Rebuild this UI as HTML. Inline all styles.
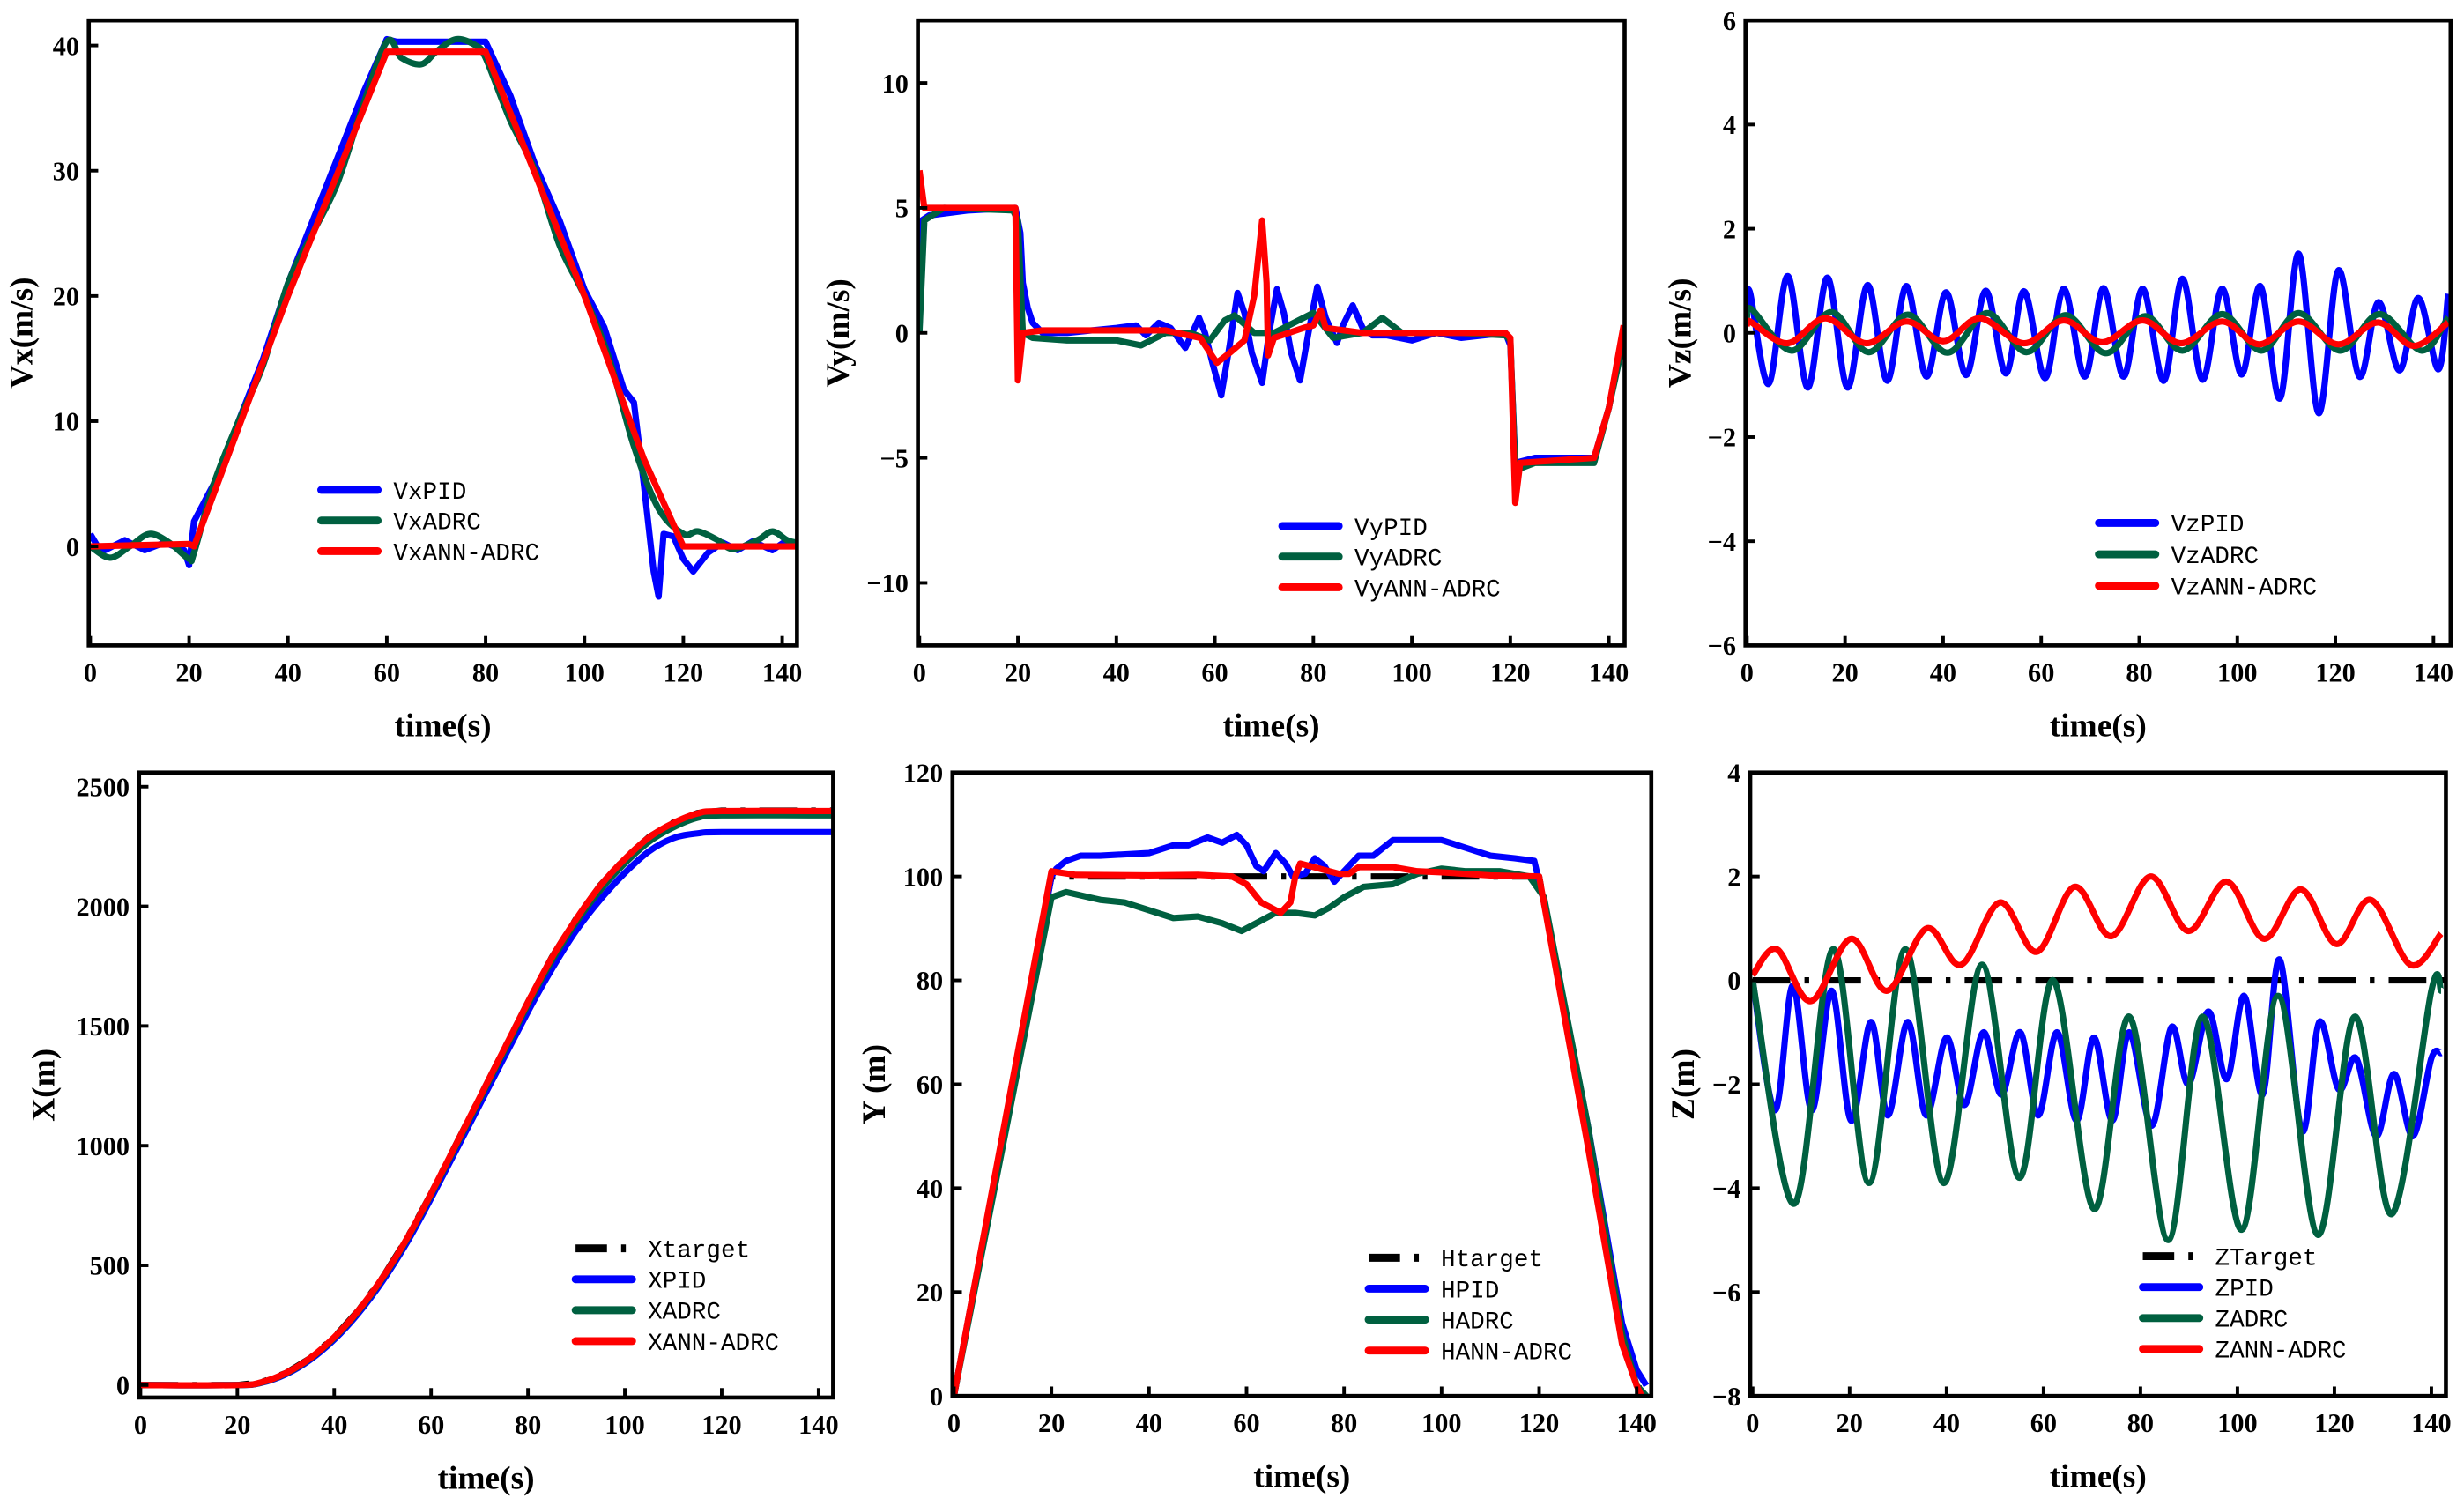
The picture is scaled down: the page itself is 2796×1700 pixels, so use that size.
<!DOCTYPE html>
<html><head><meta charset="utf-8"><style>
html,body{margin:0;padding:0;background:#fff;}
svg{display:block;}
.tk{font-family:"Liberation Serif",serif;font-weight:bold;font-size:17px;fill:#000;}
.at{font-family:"Liberation Serif",serif;font-weight:bold;font-size:21px;fill:#000;}
.lg{font-family:"Liberation Mono",monospace;font-size:15.5px;fill:#000;}
</style></head><body>
<svg id="fig" width="2796" height="1700" viewBox="0 0 1568 954" xmlns="http://www.w3.org/2000/svg"></svg>
<script>
// ---- Panel 1: Vx ----
const vxTicksX=[0,20,40,60,80,100,120,140];
const vxTicksY=[0,10,20,30,40];
const vxPID=[[0,1],[1.5,0],[3,-0.3],[7,0.5],[11,-0.3],[15,0.3],[19,-0.3],[20,-1.5],[21,2],[25,5],[30,10],[35,15],[40,21],[45,26],[50,31],[55,36],[60,40.5],[62,40.3],[70,40.3],[80,40.3],[85,36],[90,30.5],[95,26],[100,20.5],[104,17.5],[108,12.5],[110,11.5],[112,5],[114,-2],[115,-4],[116,1],[118,0.8],[120,-1],[122,-2],[125,-0.5],[128,0.3],[131,-0.3],[134,0.4],[138,-0.3],[141,0.5],[143,0]];
const vxADRC=[[0,0],[4,-0.9],[8,0],[12,1],[16,0.3],[20,-1],[21,-0.5],[25,5],[30,10],[35,14.5],[40,21],[45,25],[50,29],[55,35],[60,40.3],[63,39],[67,38.5],[70,39.5],[74,40.5],[78,40],[80,39],[85,34],[90,30],[95,24],[100,20],[105,15],[110,8],[115,3],[120,1],[123,1.2],[127,0.5],[130,-0.2],[135,0.5],[138,1.2],[141,0.5],[143,0.3]];
const vxANN=[[0,0],[20,0.2],[21,0],[40,20],[60,39.5],[80,39.5],[100,20],[112,7],[120,0],[143,0]];
// ---- Panel 2: Vy ----
const vyTicksX=[0,20,40,60,80,100,120,140];
const vyTicksY=[-10,-5,0,5,10];
const vyPID=[[0,0],[0.5,4.5],[2,4.7],[10,4.9],[19.5,5],[20.5,4],[21,2],[22,1],[23,0.4],[25,0],[30,0],[35,0.1],[40,0.2],[44,0.3],[46,-0.1],[48.6,0.4],[51,0.2],[54,-0.6],[56.8,0.6],[58,0],[59.5,-1.2],[61.3,-2.5],[63,-0.5],[64.6,1.6],[66,0.8],[67.5,-0.8],[69.6,-2.0],[71,0],[72.6,1.75],[74,0.8],[75.5,-0.8],[77.3,-1.9],[79,0],[80.8,1.85],[82.5,0.6],[84.8,-0.4],[86,0.3],[88,1.1],[90,0.2],[92,-0.1],[95,-0.1],[100,-0.3],[105,0],[110,-0.2],[119,0],[120,-0.5],[121,-5.2],[125,-5],[137,-5],[140,-3],[143,0]];
const vyADRC=[[0,0],[1,4.5],[5,5],[19,4.9],[20,4.5],[21,0],[23,-0.2],[30,-0.3],[40,-0.3],[45,-0.5],[50,0],[55,0],[59,-0.3],[62,0.5],[64,0.7],[68,0],[72,0],[77,0.5],[80,0.8],[84,-0.2],[90,0],[94,0.6],[98,0],[110,0],[119,-0.1],[120,-0.3],[121,-5.5],[125,-5.2],[137,-5.2],[140,-3],[143,-0.3]];
const vyANN=[[0,6.5],[1,5],[10,5],[19.5,5],[20,-1.9],[21,0],[25,0.1],[40,0.1],[50,0.1],[57,-0.2],[60.4,-1.2],[63,-0.8],[66,-0.3],[68,1.5],[69.6,4.5],[70.5,2],[70.8,-0.9],[72,-0.2],[78,0.2],[80,0.3],[81.5,0.9],[82.5,0.2],[90,0],[119,0],[120,-0.2],[121,-6.8],[122,-5.2],[137,-5],[140,-3],[143,0.3]];
// ---- Panel 3: Vz ----
const vzTicksX=[0,20,40,60,80,100,120,140];
const vzTicksY=[-6,-4,-2,0,2,4,6];
const vzPID=[[0,0.4],[0.6,0.78],[4.4,-0.98],[8.3,1.09],[12.4,-1.05],[16.4,1.06],[20.5,-1.05],[24.6,0.92],[28.6,-0.92],[32.5,0.9],[36.6,-0.84],[40.6,0.78],[44.7,-0.81],[48.7,0.81],[52.8,-0.78],[56.5,0.8],[60.8,-0.87],[64.6,0.85],[68.9,-0.84],[72.7,0.86],[76.8,-0.84],[80.7,0.85],[85,-0.92],[88.8,1.04],[92.9,-0.9],[96.9,0.85],[100.9,-0.8],[104.7,0.9],[108.7,-1.26],[112.5,1.52],[116.6,-1.54],[120.6,1.2],[124.9,-0.84],[128.8,0.59],[133.1,-0.72],[136.9,0.67],[141,-0.7],[143,0.75]];
const vzADRC=[[0,0.3],[1,0.45],[9.1,-0.34],[17.2,0.4],[24.8,-0.37],[32.8,0.35],[40.9,-0.38],[49,0.38],[57,-0.37],[65,0.34],[73.2,-0.39],[81.2,0.32],[88.8,-0.34],[96.9,0.36],[104.9,-0.34],[112.5,0.38],[121,-0.34],[129,0.36],[137.6,-0.34],[143,0.3]];
const vzANN=[[0,0.15],[0.6,0.22],[8.2,-0.2],[16,0.28],[24.3,-0.2],[32.5,0.22],[40.1,-0.16],[47.5,0.28],[56.5,-0.2],[64.6,0.24],[72.4,-0.18],[80.7,0.24],[88.5,-0.2],[96.9,0.22],[104.5,-0.22],[112.5,0.22],[120.6,-0.22],[128.7,0.2],[136,-0.25],[143,0.2]];
// ---- Panel 4: X ----
const xTicksX=[0,20,40,60,80,100,120,140];
const xTicksY=[0,500,1000,1500,2000,2500];
const xTarget=[[0,0],[20,0],[25,12],[30,50],[35,112],[40,200],[45,312],[50,450],[55,612],[60,800],[70,1200],[80,1600],[85,1790],[90,1950],[95,2090],[100,2200],[105,2290],[110,2350],[115,2390],[120,2400],[143,2400]];
const xPID=[[0,0],[20,0],[25,10],[30,45],[35,105],[40,190],[45,300],[50,435],[55,595],[60,780],[70,1170],[80,1560],[85,1740],[90,1900],[95,2030],[100,2140],[105,2230],[110,2285],[115,2305],[120,2310],[143,2310]];
const xADRC=[[0,0],[20,0],[25,11],[30,48],[35,110],[40,197],[45,308],[50,446],[55,608],[60,795],[70,1192],[80,1590],[85,1775],[90,1935],[95,2070],[100,2180],[105,2270],[110,2330],[115,2370],[120,2380],[143,2380]];
const xANN=[[0,0],[20,0],[25,12],[30,50],[35,112],[40,200],[45,312],[50,450],[55,612],[60,800],[70,1200],[80,1600],[85,1788],[90,1948],[95,2088],[100,2198],[105,2288],[110,2348],[115,2388],[120,2398],[143,2398]];
// ---- Panel 5: Y ----
const yTicksX=[0,20,40,60,80,100,120,140];
const yTicksY=[0,20,40,60,80,100,120];
const hTarget=[[0,0],[20,100],[120,100],[130,50],[137,13],[140,3],[141,0]];
const hPID=[[0,0],[20,100],[21,101.5],[23,103],[26,104],[30,104],[40,104.5],[45,106],[48,106],[52,107.5],[55,106.5],[58,108],[60,106],[62,102],[63.5,101],[66,104.5],[68,102.5],[69.5,100],[72,100.5],[74,103.5],[76,102],[78,99],[80,101],[83,104],[86,104],[90,107],[95,107],[100,107],[105,105.5],[110,104],[115,103.5],[119,103],[121,95],[130,52],[137,14],[140,5],[142,2]];
const hADRC=[[0,0],[20,96],[23,97],[30,95.5],[35,95],[40,93.5],[45,92],[50,92.3],[55,91],[59,89.5],[62,91],[66,93],[70,93],[74,92.5],[77,94],[80,96],[84,98],[90,98.5],[95,100.5],[100,101.5],[105,101],[112,101],[118,100],[121,96],[130,52],[137,12],[140,2],[142,0]];
const hANN=[[0,0],[20,101],[25,100.3],[40,100.2],[50,100.3],[57,100],[60,98.5],[63,95],[67,93],[69,95],[70,100],[71,102.5],[75,101.5],[79,100.5],[81,100.5],[83,101.8],[90,101.8],[95,101],[100,100.8],[110,100.2],[120,100],[130,48],[137,10],[140,2],[141,0]];
// ---- Panel 6: Z ----
const zTicksX=[0,20,40,60,80,100,120,140];
const zTicksY=[-8,-6,-4,-2,0,2,4];
const zTarget=[[0,0],[143,0]];
const zPID=[[0,0],[4.6,-2.5],[8.3,-0.1],[12.2,-2.5],[16.3,-0.2],[20.3,-2.7],[24.4,-0.8],[27.9,-2.6],[32,-0.8],[35.8,-2.6],[40,-1.1],[43.7,-2.4],[47.6,-1.0],[51.3,-2.2],[55.2,-1.0],[58.9,-2.6],[62.8,-1.0],[66.8,-2.7],[70.4,-1.1],[74.2,-2.7],[77.7,-1.0],[82.3,-2.8],[86.4,-0.9],[89.9,-2.0],[94,-0.6],[97.8,-1.9],[101.4,-0.3],[105.2,-2.2],[108.7,0.4],[113.3,-2.9],[116.9,-0.8],[120.9,-2.1],[124.5,-1.5],[128.6,-3.0],[132.3,-1.8],[136.2,-3.0],[140,-1.5],[142,-1.4]];
const zADRC=[[0,0],[8.6,-4.3],[16.6,0.6],[24,-3.9],[31.5,0.6],[39.4,-3.9],[47.3,0.3],[55,-3.8],[62,0],[70.4,-4.4],[77.7,-0.7],[85.7,-5.0],[92.8,-0.7],[100.9,-4.8],[108.4,-0.3],[116.6,-4.9],[124.2,-0.7],[131.8,-4.5],[140,-0.2],[142,-0.2]];
const zANN=[[0,0.1],[5,0.6],[12,-0.4],[20.3,0.8],[27.7,-0.2],[35.9,1.0],[43,0.3],[51,1.5],[58.6,0.55],[66.4,1.8],[74,0.85],[82.1,2.0],[89.9,0.95],[97.8,1.9],[105.5,0.8],[113.1,1.75],[120.4,0.7],[127.5,1.55],[135.7,0.3],[142,0.9]];

const BLUE="#0000ff",GREEN="#006040",RED="#ff0000",BLACK="#000";
const DASH='24,9,3,9';
const NS="http://www.w3.org/2000/svg";
const svg=document.getElementById('fig');
function mk(tag,attrs,parent){const e=document.createElementNS(NS,tag);for(const k in attrs)e.setAttribute(k,attrs[k]);(parent||svg).appendChild(e);return e;}
function pathD(pts,sx,sy,smooth){
  const P=pts.map(p=>[sx(p[0]),sy(p[1])]);
  if(!smooth)return P.map((p,i)=>(i?'L':'M')+p[0].toFixed(2)+','+p[1].toFixed(2)).join('');
  let d='M'+P[0][0].toFixed(2)+','+P[0][1].toFixed(2);
  for(let i=0;i<P.length-1;i++){
    const p0=P[i-1]||P[i],p1=P[i],p2=P[i+1],p3=P[i+2]||P[i+1];
    const c1=[p1[0]+(p2[0]-p0[0])/6,p1[1]+(p2[1]-p0[1])/6];
    const c2=[p2[0]-(p3[0]-p1[0])/6,p2[1]-(p3[1]-p1[1])/6];
    d+='C'+c1.map(v=>v.toFixed(2)).join(',')+' '+c2.map(v=>v.toFixed(2)).join(',')+' '+p2[0].toFixed(2)+','+p2[1].toFixed(2);
  }
  return d;
}
function panel(c){
  const g=mk('g',{});
  
  
  const sx=t=>c.x0+(t-c.tmin)/(c.tmax-c.tmin)*(c.x1-c.x0);
  const sy=v=>c.y1-(v-c.vmin)/(c.vmax-c.vmin)*(c.y1-c.y0);
  const cp='cp'+c.id;
  const cl=mk('clipPath',{id:cp},g);mk('rect',{x:c.x0,y:c.y0,width:c.x1-c.x0,height:c.y1-c.y0},cl);
  const sg=mk('g',{'clip-path':'url(#'+cp+')'},g);
  c.series.forEach(s=>{
    const p=mk('path',{d:pathD(s.data,sx,sy,s.smooth),fill:'none',stroke:s.color,'stroke-width':s.w||4,'stroke-linejoin':'round','stroke-dasharray':s.dash||'none'},sg);
    
    
  });
  const box=mk('rect',{x:c.x0,y:c.y0,width:c.x1-c.x0,height:c.y1-c.y0,fill:'none',stroke:'#000','stroke-width':2.6},g);
  
  
  c.ticksX.forEach(t=>{
    const x=sx(t);mk('line',{x1:x,x2:x,y1:c.y1,y2:c.y1-6,stroke:'#000','stroke-width':2.2},g);
    const tx=mk('text',{x:x,y:c.y1+23,'text-anchor':'middle',class:'tk'},g);tx.textContent=t;
    
    
  });
  c.ticksY.forEach(v=>{
    const y=sy(v);mk('line',{x1:c.x0,x2:c.x0+6,y1:y,y2:y,stroke:'#000','stroke-width':2.2},g);
    const tx=mk('text',{x:c.x0-6,y:y+6,'text-anchor':'end',class:'tk'},g);tx.textContent=(v<0?'\u2212'+(-v):v);
    
    
  });
  const xt=mk('text',{x:(c.x0+c.x1)/2,y:c.y1+58,'text-anchor':'middle',class:'at'},g);xt.textContent='time(s)';
  
  
  const ym=(c.y0+c.y1)/2;
  const yt=mk('text',{x:c.ytx,y:ym,'text-anchor':'middle',class:'at',transform:'rotate(-90 '+c.ytx+' '+ym+')'},g);yt.textContent=c.ytitle;
  
  
  const lg=mk('g',{},g);
  
  
  c.series.forEach((s,i)=>{
    const y=c.ly+i*c.lstep;
    mk('line',{x1:c.lx,x2:c.lx+36,y1:y,y2:y,stroke:s.color,'stroke-width':s.w?s.w+1:5,'stroke-linecap':s.dash?'butt':'round','stroke-dasharray':s.dash?'20,9,3,9':'none'},lg);
    const t=mk('text',{x:c.lx+46,y:y+5.5,class:'lg'},lg);t.textContent=s.label;
    
    
  });
}
panel({id:1,name:'vx-chart',x0:56,x1:507,y0:13,y1:411,tmin:-0.3,tmax:143,vmin:-7.9,vmax:42,ticksX:vxTicksX,ticksY:vxTicksY,ytitle:'Vx(m/s)',ytx:20,lx:204,ly:312,lstep:19.5,
 series:[{key:'vx-pid',label:'VxPID',color:BLUE,data:vxPID},{key:'vx-adrc',label:'VxADRC',color:GREEN,data:vxADRC,smooth:true},{key:'vx-ann-adrc',label:'VxANN-ADRC',color:RED,data:vxANN}]});
panel({id:2,name:'vy-chart',x0:584,x1:1034,y0:13,y1:411,tmin:-0.3,tmax:143.2,vmin:-12.5,vmax:12.5,ticksX:vyTicksX,ticksY:vyTicksY,ytitle:'Vy(m/s)',ytx:540,lx:816,ly:335,lstep:19.5,
 series:[{key:'vy-pid',label:'VyPID',color:BLUE,data:vyPID},{key:'vy-adrc',label:'VyADRC',color:GREEN,data:vyADRC},{key:'vy-ann-adrc',label:'VyANN-ADRC',color:RED,data:vyANN}]});
panel({id:3,name:'vz-chart',x0:1111,x1:1560,y0:13,y1:411,tmin:-0.3,tmax:143.5,vmin:-6,vmax:6,ticksX:vzTicksX,ticksY:vzTicksY,ytitle:'Vz(m/s)',ytx:1076,lx:1336,ly:333,lstep:20,
 series:[{key:'vz-pid',label:'VzPID',color:BLUE,data:vzPID,smooth:true},{key:'vz-adrc',label:'VzADRC',color:GREEN,data:vzADRC,smooth:true},{key:'vz-ann-adrc',label:'VzANN-ADRC',color:RED,data:vzANN,smooth:true}]});
panel({id:4,name:'x-position-chart',x0:88,x1:530,y0:492,y1:890,tmin:-0.3,tmax:143,vmin:-52,vmax:2559,ticksX:xTicksX,ticksY:xTicksY,ytitle:'X(m)',ytx:34,lx:366,ly:795,lstep:19.7,
 series:[{key:'x-target',label:'Xtarget',color:BLACK,data:xTarget,dash:DASH,w:4},{key:'x-pid',label:'XPID',color:BLUE,data:xPID,smooth:true},{key:'x-adrc',label:'XADRC',color:GREEN,data:xADRC,smooth:true},{key:'x-ann-adrc',label:'XANN-ADRC',color:RED,data:xANN,smooth:true}]});
panel({id:5,name:'y-position-chart',x0:606,x1:1051,y0:492,y1:889,tmin:-0.3,tmax:143,vmin:0,vmax:120,ticksX:yTicksX,ticksY:yTicksY,ytitle:'Y (m)',ytx:563,lx:871,ly:801,lstep:19.7,
 series:[{key:'h-target',label:'Htarget',color:BLACK,data:hTarget,dash:DASH,w:4},{key:'h-pid',label:'HPID',color:BLUE,data:hPID},{key:'h-adrc',label:'HADRC',color:GREEN,data:hADRC},{key:'h-ann-adrc',label:'HANN-ADRC',color:RED,data:hANN}]});
panel({id:6,name:'z-position-chart',x0:1114,x1:1557,y0:492,y1:889,tmin:-0.5,tmax:143,vmin:-8,vmax:4,ticksX:zTicksX,ticksY:zTicksY,ytitle:'Z(m)',ytx:1078,lx:1364,ly:800,lstep:19.7,
 series:[{key:'z-target',label:'ZTarget',color:BLACK,data:zTarget,dash:DASH,w:4},{key:'z-pid',label:'ZPID',color:BLUE,data:zPID,smooth:true},{key:'z-adrc',label:'ZADRC',color:GREEN,data:zADRC,smooth:true},{key:'z-ann-adrc',label:'ZANN-ADRC',color:RED,data:zANN,smooth:true}]});
</script>
</body></html>
